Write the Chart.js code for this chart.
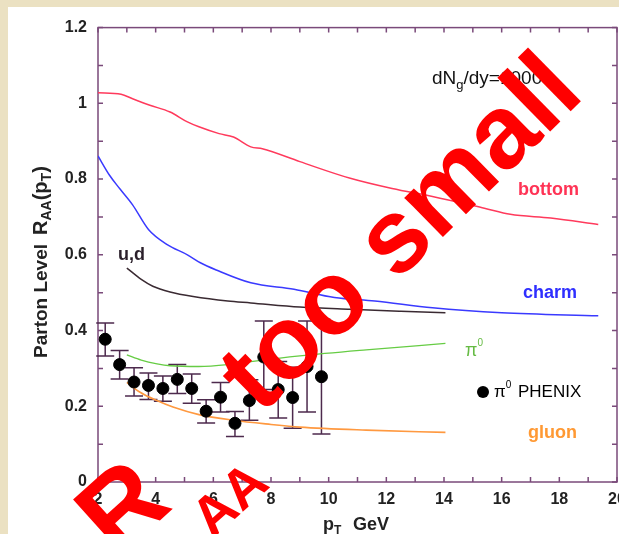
<!DOCTYPE html>
<html lang="en">
<head>
<meta charset="UTF-8">
<title>Parton Level RAA</title>
<script src="https://cdn.jsdelivr.net/npm/chart.js"></script>
<style>
    html, body { margin: 0; padding: 0; overflow: hidden; }
    body { background: #ebe1c2; width: 619px; height: 534px; position: relative; }
    #panel { position: absolute; left: 8px; top: 7px; width: 626px; height: 527px; background: #fff; }
</style>
</head>
<body>
<div id="panel"><canvas id="raaChart" width="626" height="527"></canvas></div>
<script>
// curves (pT in GeV, RAA)
const bottomX = [2, 2.8, 3.2, 3.8, 4.5, 5.1, 5.5, 6.2, 6.7, 7.3, 7.7, 9.0, 10.75, 12.2, 13.6, 15.4, 16.3, 17.7, 19.35];
const bottomY = [1.028, 1.024, 1.012, 0.995, 0.977, 0.951, 0.938, 0.92, 0.911, 0.885, 0.88, 0.846, 0.802, 0.775, 0.754, 0.723, 0.707, 0.697, 0.68];
const charmX = [2, 2.4, 2.75, 3.2, 3.75, 4.4, 5.1, 5.55, 6.1, 7.3, 8.8, 10.2, 11.6, 13.6, 16, 19.35];
const charmY = [0.861, 0.81, 0.775, 0.732, 0.667, 0.627, 0.60, 0.579, 0.56, 0.526, 0.509, 0.487, 0.478, 0.46, 0.447, 0.439];
const udX = [3.0, 3.5, 3.9, 4.5, 5.3, 6.5, 7.3, 9.0, 10.75, 12.5, 14.05];
const udY = [0.565, 0.535, 0.517, 0.502, 0.49, 0.478, 0.473, 0.462, 0.456, 0.451, 0.447];
const pi0X = [3.0, 3.5, 4.05, 4.5, 5.5, 6.5, 7.3, 9.0, 11.3, 14.05];
const pi0Y = [0.336, 0.322, 0.312, 0.307, 0.305, 0.31, 0.318, 0.333, 0.349, 0.366];
const gluonX = [3.0, 3.46, 4.04, 4.6, 5.5, 6.7, 8.0, 9.0, 11.3, 14.05];
const gluonY = [0.263, 0.237, 0.215, 0.198, 0.178, 0.163, 0.152, 0.145, 0.137, 0.131];

// PHENIX pi0 points with error bar ends
const phenixX = [2.25, 2.75, 3.25, 3.75, 4.25, 4.75, 5.25, 5.75, 6.25, 6.75, 7.25, 7.75, 8.25, 8.75, 9.25, 9.75];
const phenixY = [0.377, 0.31, 0.264, 0.255, 0.247, 0.271, 0.247, 0.187, 0.224, 0.155, 0.215, 0.33, 0.244, 0.223, 0.305, 0.278];
const phenixLo = [0.333, 0.272, 0.227, 0.218, 0.213, 0.234, 0.208, 0.156, 0.185, 0.12, 0.163, 0.244, 0.169, 0.142, 0.185, 0.127];
const phenixHi = [0.42, 0.347, 0.302, 0.288, 0.28, 0.31, 0.285, 0.217, 0.263, 0.186, 0.27, 0.425, 0.318, 0.303, 0.425, 0.43];

const xMin = 2, xMax = 20, xStep = 2, xMinor = 1;
const yMin = 0, yMax = 1.2, yStep = 0.2, yMinor = 0.1;

const FF = '"Liberation Sans", Arial, sans-serif';
const axisColor = '#7a4a7a';
const barColor = '#4d2a4d';

function zip(xs, ys) {
    return xs.map((x, i) => ({x: x, y: ys[i]}));
}

function curve(xs, ys, color, width) {
    return {
        type: 'line',
        data: zip(xs, ys),
        borderColor: color,
        borderWidth: width,
        pointRadius: 0,
        fill: false,
        cubicInterpolationMode: 'monotone'
    };
}

function drawRuns(ctx, x, y, runs) {
    runs.forEach(r => {
        ctx.font = r.font;
        ctx.fillText(r.t, x, y + (r.dy || 0));
        x += ctx.measureText(r.t).width + (r.gap || 0);
    });
}

const framePlugin = {
    id: 'framePlugin',
    beforeDatasetsDraw(chart) {
        const {ctx, chartArea: a, scales: {x, y}} = chart;
        ctx.save();
        ctx.strokeStyle = axisColor;
        ctx.lineWidth = 1.5;
        ctx.strokeRect(a.left, a.top, a.right - a.left, a.bottom - a.top);
        ctx.beginPath();
        for (let v = xMin; v <= xMax + 1e-9; v += xMinor) {
            const px = x.getPixelForValue(v);
            ctx.moveTo(px, a.bottom); ctx.lineTo(px, a.bottom - 5);
            ctx.moveTo(px, a.top); ctx.lineTo(px, a.top + 5);
        }
        for (let i = 0; i <= Math.round((yMax - yMin) / yMinor); i++) {
            const py = y.getPixelForValue(yMin + i * yMinor);
            ctx.moveTo(a.left, py); ctx.lineTo(a.left + 5, py);
            ctx.moveTo(a.right, py); ctx.lineTo(a.right - 5, py);
        }
        ctx.stroke();

        // error bars
        ctx.strokeStyle = barColor;
        ctx.lineWidth = 1.5;
        ctx.beginPath();
        phenixX.forEach((v, i) => {
            const px = x.getPixelForValue(v);
            const top = y.getPixelForValue(phenixHi[i]);
            const bot = y.getPixelForValue(phenixLo[i]);
            ctx.moveTo(px, top); ctx.lineTo(px, bot);
            ctx.moveTo(px - 9, top); ctx.lineTo(px + 9, top);
            ctx.moveTo(px - 9, bot); ctx.lineTo(px + 9, bot);
        });
        ctx.stroke();
        ctx.restore();
    },
    afterDraw(chart) {
        const ctx = chart.ctx;
        ctx.save();
        ctx.textAlign = 'left';
        ctx.textBaseline = 'alphabetic';

        // axis titles
        ctx.fillStyle = '#222';
        ctx.save();
        ctx.translate(39, 351);
        ctx.rotate(-Math.PI / 2);
        drawRuns(ctx, 0, 0, [
            {t: 'Parton Level', font: 'bold 19px ' + FF, gap: 9},
            {t: 'R', font: 'bold 20px ' + FF},
            {t: 'AA', font: 'bold 14px ' + FF, dy: 4},
            {t: '(p', font: 'bold 20px ' + FF},
            {t: 'T', font: 'bold 14px ' + FF, dy: 4},
            {t: ')', font: 'bold 20px ' + FF}
        ]);
        ctx.restore();
        drawRuns(ctx, 315, 523, [
            {t: 'p', font: 'bold 18px ' + FF},
            {t: 'T', font: 'bold 12px ' + FF, dy: 4}
        ]);
        ctx.font = 'bold 18px ' + FF;
        ctx.fillText('GeV', 345, 523);

        // annotations
        ctx.fillStyle = '#111';
        drawRuns(ctx, 424, 77, [
            {t: 'dN', font: '19px ' + FF},
            {t: 'g', font: '13px ' + FF, dy: 5},
            {t: '/dy=1000', font: '19px ' + FF}
        ]);
        ctx.font = 'bold 18px ' + FF;
        ctx.fillStyle = '#ff3355';
        ctx.fillText('bottom', 510, 188);
        ctx.fillStyle = '#2f2fff';
        ctx.fillText('charm', 515, 291);
        ctx.fillStyle = '#2a1f2a';
        ctx.fillText('u,d', 110, 253);
        ctx.fillStyle = '#ff9933';
        ctx.fillText('gluon', 520, 431);
        ctx.fillStyle = '#66bb44';
        drawRuns(ctx, 457, 349, [
            {t: 'π', font: '18px ' + FF},
            {t: '0', font: '10px ' + FF, dy: -10}
        ]);
        ctx.fillStyle = '#000';
        ctx.beginPath();
        ctx.arc(475, 385, 6, 0, Math.PI * 2);
        ctx.fill();
        drawRuns(ctx, 486, 390, [
            {t: 'π', font: '17px ' + FF},
            {t: '0', font: '10px ' + FF, dy: -9}
        ]);
        ctx.font = '17px ' + FF;
        ctx.fillText('PHENIX', 510, 390);

        // red stamp across the plot
        ctx.fillStyle = '#ff0000';
        ctx.save();
        ctx.translate(252.5, 409);
        ctx.rotate(-44.5 * Math.PI / 180);
        ctx.font = 'bold 104px ' + FF;
        ctx.fillText('too small', 0, 0);
        ctx.restore();
        ctx.save();
        ctx.translate(109, 552);
        ctx.rotate(-42 * Math.PI / 180);
        ctx.font = 'bold 107px ' + FF;
        ctx.fillText('R', 0, 0);
        ctx.font = 'bold 55px ' + FF;
        ctx.fillText('AA', 84, 49);
        ctx.restore();
        ctx.restore();
    }
};

const tickFont = {family: FF, size: 16, weight: 'bold'};

new Chart(document.getElementById('raaChart'), {
    data: {
        datasets: [
            {
                type: 'scatter',
                data: zip(phenixX, phenixY),
                pointRadius: 6,
                pointBackgroundColor: '#000',
                pointBorderColor: '#000',
                showLine: false
            },
            curve(bottomX, bottomY, '#ff3a5c', 1.5),
            curve(charmX, charmY, '#3a3aff', 1.5),
            curve(udX, udY, '#3a2a32', 1.5),
            curve(pi0X, pi0Y, '#66cc44', 1.3),
            curve(gluonX, gluonY, '#ff9940', 1.6)
        ]
    },
    options: {
        responsive: false,
        animation: false,
        layout: {padding: {top: 16, right: 17, left: 0, bottom: 0}},
        plugins: {legend: {display: false}, tooltip: {enabled: false}},
        scales: {
            x: {
                type: 'linear',
                min: xMin,
                max: xMax,
                grid: {display: false, drawTicks: false},
                border: {display: false},
                ticks: {stepSize: xStep, padding: 8, color: '#222', font: tickFont, maxRotation: 0, autoSkip: false},
                afterFit: s => { s.height = 52; }
            },
            y: {
                type: 'linear',
                min: yMin,
                max: yMax,
                grid: {display: false, drawTicks: false},
                border: {display: false},
                ticks: {
                    stepSize: yStep, padding: 11, color: '#222', font: tickFont,
                    callback: v => String(Number(v.toFixed(2)))
                },
                afterFit: s => { s.width = 90; }
            }
        }
    },
    plugins: [framePlugin]
});
</script>
</body>
</html>
